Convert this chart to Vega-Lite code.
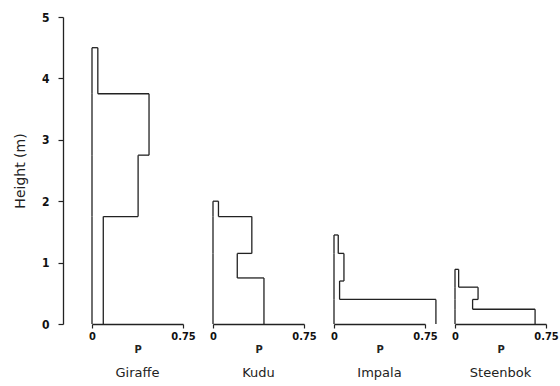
{
  "$schema": "https://vega.github.io/schema/vega-lite/v6.json",
  "padding": {"left": 13, "top": 11, "right": 5, "bottom": 5},
  "bounds": "flush",
  "background": "white",
  "data": {
    "values": [
      {"species": "Giraffe", "lo": 0, "hi": 1.75, "p": 0.093, "pa": 0.38},
      {"species": "Giraffe", "lo": 1.75, "hi": 2.75, "p": 0.38, "pa": 0.47},
      {"species": "Giraffe", "lo": 2.75, "hi": 3.75, "p": 0.47, "pa": 0.048},
      {"species": "Giraffe", "lo": 3.75, "hi": 4.5, "p": 0.048, "pa": 0},
      {"species": "Kudu", "lo": 0, "hi": 0.75, "p": 0.42, "pa": 0.2},
      {"species": "Kudu", "lo": 0.75, "hi": 1.15, "p": 0.2, "pa": 0.32},
      {"species": "Kudu", "lo": 1.15, "hi": 1.75, "p": 0.32, "pa": 0.045},
      {"species": "Kudu", "lo": 1.75, "hi": 2.0, "p": 0.045, "pa": 0},
      {"species": "Impala", "lo": 0, "hi": 0.4, "p": 0.84, "pa": 0.046},
      {"species": "Impala", "lo": 0.4, "hi": 0.7, "p": 0.046, "pa": 0.082},
      {"species": "Impala", "lo": 0.7, "hi": 1.15, "p": 0.082, "pa": 0.035},
      {"species": "Impala", "lo": 1.15, "hi": 1.45, "p": 0.035, "pa": 0},
      {"species": "Steenbok", "lo": 0, "hi": 0.24, "p": 0.66, "pa": 0.145},
      {"species": "Steenbok", "lo": 0.24, "hi": 0.4, "p": 0.145, "pa": 0.19},
      {"species": "Steenbok", "lo": 0.4, "hi": 0.6, "p": 0.19, "pa": 0.03},
      {"species": "Steenbok", "lo": 0.6, "hi": 0.89, "p": 0.03, "pa": 0}
    ]
  },
  "facet": {
    "column": {
      "field": "species",
      "type": "nominal",
      "sort": ["Giraffe", "Kudu", "Impala", "Steenbok"],
      "header": {
        "title": null,
        "labelOrient": "bottom",
        "labelFont": "DejaVu Sans",
        "labelFontSize": 13,
        "labelColor": "#222",
        "labelPadding": 13
      }
    }
  },
  "spacing": 30,
  "resolve": {"scale": {"x": "shared", "y": "shared"}},
  "spec": {
    "width": 91,
    "height": 307,
    "layer": [
      {
        "mark": {"type": "rule", "color": "#222", "strokeWidth": 1.3},
        "encoding": {
          "x": {"datum": 0, "type": "quantitative", "title": "P",
                "scale": {"domain": [0, 0.75], "nice": false},
                "axis": {"values": [0, 0.25, 0.5, 0.75],
                         "labelExpr": "datum.value == 0 ? '0' : (datum.value == 0.75 ? '0.75' : '')"}},
          "y": {"field": "lo", "type": "quantitative", "title": "Height (m)",
                "scale": {"domain": [0, 5], "nice": false},
                "axis": {"values": [0, 1, 2, 3, 4, 5], "format": "d", "offset": 29}},
          "y2": {"field": "hi"}
        }
      },
      {
        "mark": {"type": "rule", "color": "#222", "strokeWidth": 1.3},
        "encoding": {
          "x": {"field": "p", "type": "quantitative", "title": "P"},
          "y": {"field": "lo", "type": "quantitative", "title": "Height (m)"},
          "y2": {"field": "hi"}
        }
      },
      {
        "mark": {"type": "rule", "color": "#222", "strokeWidth": 1.3},
        "encoding": {
          "x": {"field": "p", "type": "quantitative", "title": "P"},
          "x2": {"field": "pa"},
          "y": {"field": "hi", "type": "quantitative", "title": "Height (m)"}
        }
      }
    ]
  },
  "config": {
    "view": {"stroke": null},
    "axis": {
      "grid": false,
      "domainColor": "#222",
      "domainWidth": 1.3,
      "tickColor": "#222",
      "tickWidth": 1.2,
      "tickSize": 5,
      "labelFont": "DejaVu Sans Condensed",
      "labelFontWeight": "bold",
      "labelFontSize": 11,
      "labelColor": "#111",
      "titleColor": "#222"
    },
    "axisX": {
      "labelPadding": 2,
      "tickSize": 4,
      "titleFont": "DejaVu Sans Condensed",
      "titleFontWeight": "bold",
      "titleFontSize": 11,
      "titlePadding": 2,
      "labelFlush": false
    },
    "axisY": {
      "labelPadding": 9,
      "labelFontSize": 12,
      "titleFont": "DejaVu Sans",
      "titleFontWeight": "normal",
      "titleFontSize": 14,
      "titlePadding": 14
    }
  }
}
